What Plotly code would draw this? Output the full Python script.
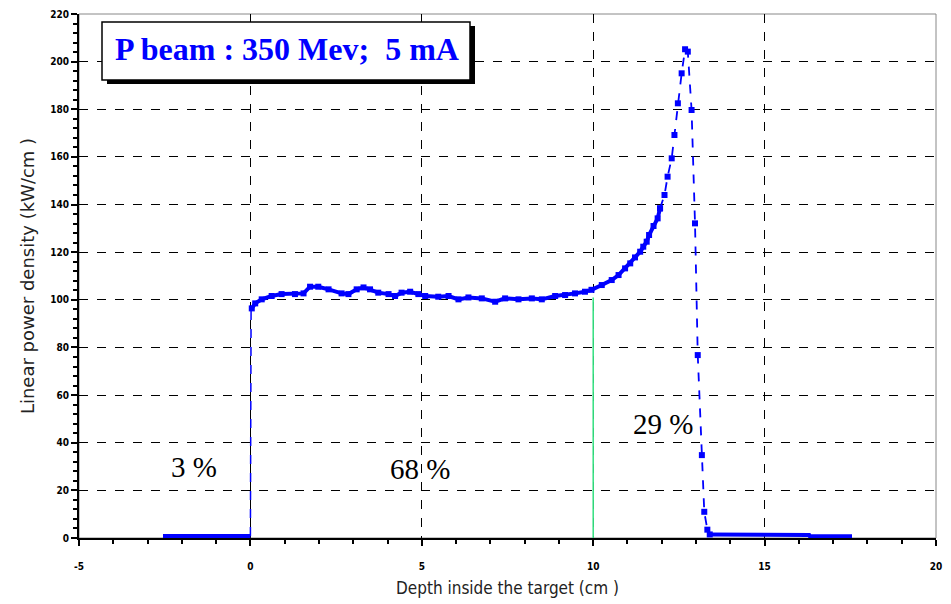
import plotly.graph_objects as go

# ---- data ----
left_x = [-2.55, -1.5, -0.5, 0.0]
left_y = [0.8, 0.8, 0.8, 0.8]

edge_x = [0.0, 0.0, 0.02]
edge_y = [0.8, 50.0, 96.4]

plateau_x = [0.04, 0.14, 0.33, 0.62, 0.91, 1.30, 1.55, 1.74, 1.98, 2.28, 2.66, 2.86,
             3.10, 3.30, 3.49, 3.73, 4.03, 4.22, 4.41, 4.66, 4.90, 5.10, 5.48, 5.78,
             6.07, 6.36, 6.75, 7.14, 7.43, 7.82, 8.21, 8.50, 8.89, 9.18, 9.47, 9.76,
             9.95, 10.25, 10.54, 10.74, 10.93, 11.08, 11.22, 11.37, 11.46, 11.56,
             11.63, 11.76, 11.88, 11.95]
plateau_y = [96.4, 98.5, 100.2, 101.6, 102.4, 102.4, 102.7, 105.5, 105.5, 104.4, 102.7, 102.4,
             104.4, 105.2, 104.4, 103.0, 102.4, 101.6, 103.0, 103.4, 102.4, 101.6, 101.3, 101.6,
             100.2, 101.0, 100.6, 99.2, 100.6, 100.2, 100.6, 100.2, 101.6, 102.0, 102.7, 103.4,
             104.2, 106.2, 108.3, 110.4, 113.2, 115.3, 117.8, 120.2, 122.3, 124.4,
             127.2, 131.0, 134.2, 138.4]

peak_x = [11.95, 12.08, 12.17, 12.29, 12.37, 12.47, 12.58, 12.68, 12.76, 12.87, 12.97,
          13.05, 13.17, 13.24, 13.33, 13.40]
peak_y = [138.4, 144.0, 151.7, 159.4, 169.2, 182.5, 195.1, 205.2, 204.2, 179.7, 132.1,
          76.8, 34.8, 11.0, 3.5, 1.5]

tail_x = [13.40, 14.5, 15.5, 16.3, 16.32, 17.0, 17.55]
tail_y = [1.5, 1.3, 1.3, 1.3, 0.7, 0.7, 0.7]

split_x = [10, 10]
split_y = [0, 101]

shares = ["3 %", "68 %", "29 %"]
share_x = [-1.65, 4.95, 12.05]
share_y = [30, 29, 48]

x_ticks = [-5, 0, 5, 10, 15, 20]
y_ticks = list(range(0, 221, 20))

title_text = "P beam : 350 Mev;  5 mA"

BLUE = "#0000ff"

fig = go.Figure()

fig.add_trace(go.Scatter(x=split_x, y=split_y, mode="lines",
                         line=dict(color="#33e080", width=1.5), hoverinfo="skip"))
fig.add_trace(go.Scatter(x=left_x, y=left_y, mode="lines",
                         line=dict(color=BLUE, width=4)))
fig.add_trace(go.Scatter(x=edge_x, y=edge_y, mode="lines",
                         line=dict(color=BLUE, width=1.5, dash="dash")))
fig.add_trace(go.Scatter(x=plateau_x, y=plateau_y, mode="lines+markers",
                         line=dict(color=BLUE, width=4),
                         marker=dict(symbol="square", size=6, color=BLUE)))
fig.add_trace(go.Scatter(x=peak_x, y=peak_y, mode="lines+markers",
                         line=dict(color=BLUE, width=1.8, dash="dash"),
                         marker=dict(symbol="square", size=6, color=BLUE)))
fig.add_trace(go.Scatter(x=tail_x, y=tail_y, mode="lines",
                         line=dict(color=BLUE, width=4)))

for t, xx, yy in zip(shares, share_x, share_y):
    fig.add_annotation(x=xx, y=yy, text=t, showarrow=False,
                       xanchor="center", yanchor="middle",
                       font=dict(family="Liberation Serif", size=29, color="black"))

# page has an 8px body margin: figure size and margins account for it
OFF = 8
W, H = 951 - OFF, 604 - OFF
PL, PR, PT, PB = 79, 936, 14, 538   # plot area in page pixels
ml, mt = PL - OFF, PT - OFF
mr = W - (PR - OFF)
mb = H - (PB - OFF)
def px_to_paper(x, y):
    return (x - PL) / (PR - PL), 1 - (y - PT) / (PB - PT)

x0, y0 = px_to_paper(107, 26)
x1, y1 = px_to_paper(475, 84)
fig.add_shape(type="rect", xref="paper", yref="paper", x0=x0, y0=y1, x1=x1, y1=y0,
              fillcolor="black", line=dict(width=0), layer="above")
x0, y0 = px_to_paper(102, 22)
x1, y1 = px_to_paper(470, 80)
fig.add_shape(type="rect", xref="paper", yref="paper", x0=x0, y0=y1, x1=x1, y1=y0,
              fillcolor="white", line=dict(color="black", width=1.5), layer="above")
cx, cy = px_to_paper(287, 49)
fig.add_annotation(xref="paper", yref="paper", x=cx, y=cy, text="<b>" + title_text + "</b>",
                   showarrow=False, xanchor="center", yanchor="middle",
                   font=dict(family="Liberation Serif", size=32, color=BLUE))

# thin frame
fig.add_shape(type="rect", xref="paper", yref="paper", x0=0, y0=0, x1=1, y1=1,
              line=dict(color="#888888", width=1), layer="below")

tickfont = dict(family="DejaVu Sans Condensed", size=10, color="black", weight="bold")

fig.update_layout(
    width=W, height=H,
    margin=dict(l=ml, r=mr, t=mt, b=mb, autoexpand=False),
    paper_bgcolor="white", plot_bgcolor="white",
    showlegend=False,
    xaxis=dict(range=[-5, 20], tickvals=x_ticks, ticktext=[str(v) for v in x_ticks],
               automargin=False, ticklabelstandoff=12,
               showgrid=True, gridcolor="black", griddash="dash", gridwidth=1.3,
               zeroline=False, showline=True, linecolor="black", linewidth=2,
               ticks="outside", ticklen=6, tickcolor="black", tickwidth=1.5,
               minor=dict(dtick=1, ticks="outside", ticklen=4, tickcolor="black", showgrid=False),
               tickfont=tickfont,
               title=dict(text="Depth inside the target (cm )",
                          font=dict(family="DejaVu Sans Condensed", size=17, color="#222222"),
                          standoff=11)),
    yaxis=dict(range=[0, 220], tickvals=y_ticks, ticktext=[str(v) for v in y_ticks],
               automargin=False,
               showgrid=True, gridcolor="black", griddash="dash", gridwidth=1.3,
               zeroline=False, showline=True, linecolor="black", linewidth=2,
               ticks="outside", ticklen=6, tickcolor="black", tickwidth=1.5,
               minor=dict(dtick=4, ticks="outside", ticklen=4, tickcolor="black", showgrid=False),
               tickfont=tickfont,
               title=dict(text="Linear power density (kW/cm )",
                          font=dict(family="DejaVu Sans", size=18, color="#222222"),
                          standoff=11)),
)

fig.write_html("out.html")
